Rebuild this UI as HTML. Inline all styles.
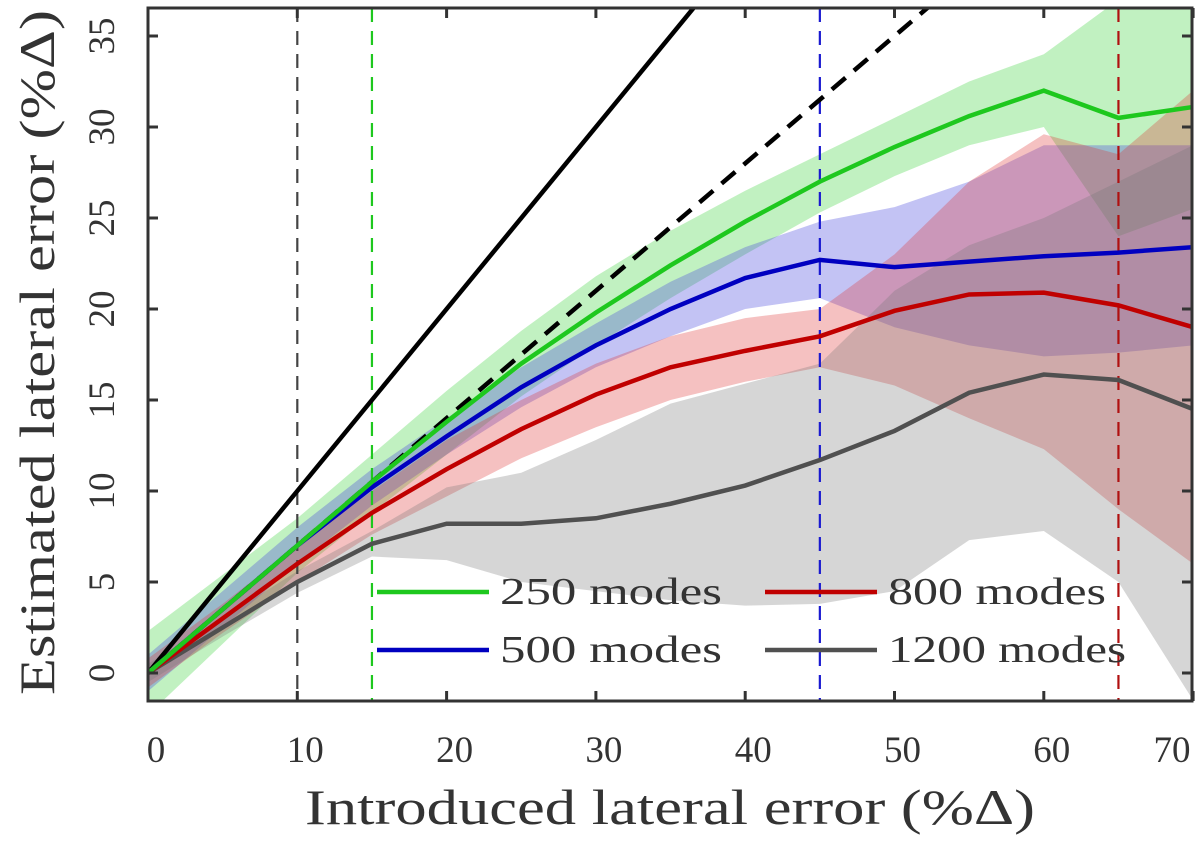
<!DOCTYPE html>
<html><head><meta charset="utf-8"><style>
body{margin:0;background:#fff}
svg text{font-family:"Liberation Serif",serif;fill:#333}
</style></head><body>
<svg id="c" width="1200" height="838" xmlns="http://www.w3.org/2000/svg"></svg>
<script>
const xs=[0,5,10,15,20,25,30,35,40,45,50,55,60,65,70];
const g250=[0,3.5,7,10.5,13.8,17,19.8,22.4,24.8,27,28.9,30.6,32,30.5,31.1];
const g250Hi=[2.3,5.4,8.5,12,15.5,18.8,21.8,24.3,26.5,28.5,30.5,32.5,34,37,38];
const g250Lo=[-2.3,1.6,5.5,8.8,12,15.2,18,20.6,23,25.3,27.3,29,30,24,25.5];
const b500=[0,3.5,7,10.2,13,15.7,18,20,21.7,22.7,22.3,22.6,22.9,23.1,23.4];
const b500Hi=[1,4.5,8,11.2,14,16.8,19.2,21.5,23.4,24.8,25.6,27,29,29,29];
const b500Lo=[-1,2.5,6,9.2,12,14.6,16.8,18.5,20,20.6,19,18,17.4,17.6,18];
const r800=[0,3,6,8.8,11.2,13.4,15.3,16.8,17.7,18.5,19.9,20.8,20.9,20.2,19];
const r800Hi=[0.8,3.8,7,10,12.8,15,17,18.5,19.5,20,23,27,29.6,28.5,32];
const r800Lo=[-0.8,2.2,5,7.6,9.7,11.8,13.5,15,16,16.8,15.8,14,12.3,9,6];
const k1200=[0,2.5,5,7.1,8.2,8.2,8.5,9.3,10.3,11.7,13.3,15.4,16.4,16.1,14.5];
const k1200Hi=[0.5,3,5.6,7.8,10.2,11,12.8,14.8,15.9,17,21,23.5,25,27,29];
const k1200Lo=[-0.5,2,4.4,6.4,6.2,5,4.5,4,3.7,3.8,4.5,7.3,7.8,5,-1.5];
const xTicks=[0,10,20,30,40,50,60,70];
const yTicks=[0,5,10,15,20,25,30,35];
const vLines=[10,15,45,65];
const vColors=['#444','#1ec81e','#1a1ad0','#b01010'];

const L=148,R=1192,T=8,B=701;
const X=v=>L+v*14.93, Y=v=>673-v*18.2;
const svg=document.getElementById('c');
const NS='http://www.w3.org/2000/svg';
function mk(t,a,p){const e=document.createElementNS(NS,t);for(const k in a)e.setAttribute(k,a[k]);(p||svg).appendChild(e);return e;}
const defs=mk('defs',{});const cp=mk('clipPath',{id:'clip'},defs);mk('rect',{x:L,y:T,width:R-L,height:B-T},cp);
const plot=mk('g',{'clip-path':'url(#clip)'});


function band(hi,lo,fill,op,name){
  let d='M'+xs.map((x,i)=>X(x)+','+Y(hi[i])).join('L');
  d+='L'+xs.slice().reverse().map((x,j)=>{const i=xs.length-1-j;return X(x)+','+Y(lo[i]);}).join('L')+'Z';
  const p=mk('path',{d:d,fill:fill,'fill-opacity':op},plot);
  
  
}
band(g250Hi,g250Lo,'#22cc22',0.28,'band-250');
band(b500Hi,b500Lo,'#4444dd',0.32,'band-500');
band(r800Hi,r800Lo,'#dd3333',0.3,'band-800');
band(k1200Hi,k1200Lo,'#777',0.3,'band-1200');
vLines.forEach((v,i)=>{const l=mk('line',{x1:X(v),x2:X(v),y1:T,y2:B,stroke:vColors[i],'stroke-width':2.2,'stroke-dasharray':'14,9'},plot);

});
let l1=mk('line',{x1:X(0),y1:Y(0),x2:X(40),y2:Y(40),stroke:'#000','stroke-width':4.5},plot);


let l2=mk('line',{x1:X(0),y1:Y(0),x2:X(60),y2:Y(42),stroke:'#000','stroke-width':4.5,'stroke-dasharray':'18,11'},plot);


function line(v,c,name){const p=mk('polyline',{points:xs.map((x,i)=>X(x)+','+Y(v[i])).join(' '),fill:'none',stroke:c,'stroke-width':4.5},plot);

}
line(k1200,'#505050','line-1200');
line(r800,'#c00000','line-800');
line(b500,'#0000c0','line-500');
line(g250,'#1ec81e','line-250');
// axes
const ax=mk('rect',{x:L,y:T,width:R-L,height:B-T,fill:'none',stroke:'#333','stroke-width':3});


xTicks.forEach(v=>{mk('line',{x1:X(v),x2:X(v),y1:B,y2:B-10,stroke:'#333','stroke-width':3});mk('line',{x1:X(v),x2:X(v),y1:T,y2:T+10,stroke:'#333','stroke-width':3});
const t=mk('text',{x:v==70?1172:X(v)+8,y:762,'font-size':37,'text-anchor':'middle'});t.textContent=v;

});
yTicks.forEach(v=>{mk('line',{x1:L,x2:L+10,y1:Y(v),y2:Y(v),stroke:'#333','stroke-width':3});mk('line',{x1:R,x2:R-10,y1:Y(v),y2:Y(v),stroke:'#333','stroke-width':3});
const t=mk('text',{x:0,y:0,'font-size':37,'text-anchor':'middle',transform:`translate(114,${Y(v)}) rotate(-90)`});t.textContent=v;

});
let xt=mk('text',{x:305,y:824,'font-size':50,textLength:730,lengthAdjust:'spacingAndGlyphs'});xt.textContent='Introduced lateral error (%Δ)';


let yt=mk('text',{x:0,y:0,'font-size':50,textLength:685,lengthAdjust:'spacingAndGlyphs',transform:'translate(54,695) rotate(-90)'});yt.textContent='Estimated lateral error (%Δ)';


// legend
const leg=[['250 modes','#1ec81e',377,592,222],['800 modes','#c00000',765,592,218],['500 modes','#0000c0',377,650,222],['1200 modes','#505050',765,650,238]];
leg.forEach(e=>{const g=mk('g',{});


mk('line',{x1:e[2],x2:e[2]+112,y1:e[3],y2:e[3],stroke:e[1],'stroke-width':4.5},g);
const t=mk('text',{x:e[2]+123,y:e[3]+12,'font-size':38,textLength:e[4],lengthAdjust:'spacingAndGlyphs'},g);t.textContent=e[0];});
</script>
</body></html>
